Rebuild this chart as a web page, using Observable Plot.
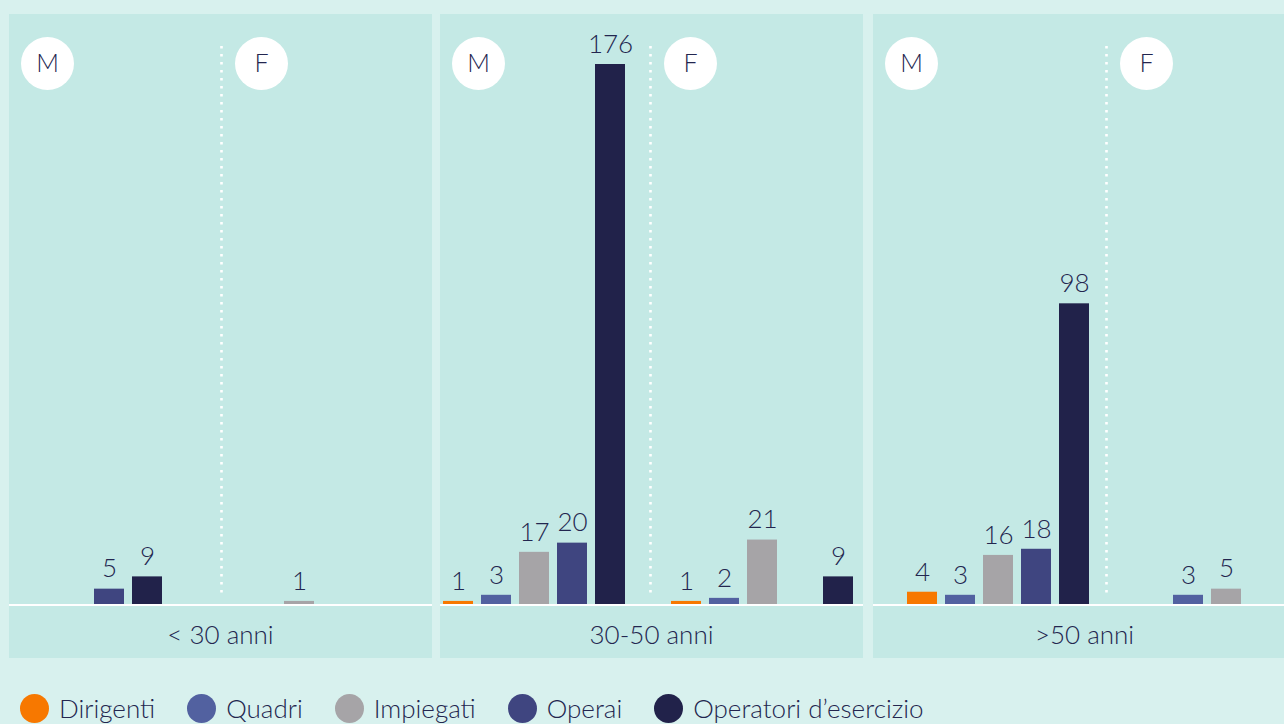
<!DOCTYPE html>
<html>
<head>
<meta charset="utf-8">
<script src="https://cdn.jsdelivr.net/npm/d3@7"></script>
<script src="https://cdn.jsdelivr.net/npm/@observablehq/plot@0.6"></script>
<style>
  html, body { margin: 0; padding: 0; background: #d8f1ee; overflow: hidden; }
  body { width: 1284px; height: 724px; font-family: Lato, "Noto Sans", sans-serif; font-weight: 300; color: #23264f; }
  #wrap { padding: 14px 0 0 9px; }
  #panels { display: flex; width: 1300px; }
  .panel { flex: 0 0 423px; width: 423px; background: #c4e9e5; }
  .panel svg { display: block; background: transparent; }
  .label { height: 54px; border-top: 2px solid #ffffff; box-sizing: border-box; display: flex; align-items: center; justify-content: center; font-size: 26px; padding-top: 4px; }
  #legend { display: flex; align-items: center; margin-top: 35px; margin-left: 11px; height: 30px; font-size: 26px; }
  .item { display: flex; align-items: center; margin-right: 32px; }
  .sw { width: 29px; height: 29px; border-radius: 50%; margin-right: 10px; }
</style>
</head>
<body>
<div id="wrap">
  <div id="panels"></div>
  <div id="legend"></div>
</div>
<script>
// ---- data ----
const ageGroups = ["< 30 anni", "30-50 anni", ">50 anni"];
const genders = ["M", "F"];
const categories = ["Dirigenti", "Quadri", "Impiegati", "Operai", "Operatori d’esercizio"];
const colors = ["#f77800", "#5261a0", "#a6a4a7", "#3f4580", "#21224a"];
// values per age group: M then F, in category order
const under30M = [0, 0, 0, 5, 9];
const under30F = [0, 0, 1, 0, 0];
const mid30_50M = [1, 3, 17, 20, 176];
const mid30_50F = [1, 2, 21, 0, 9];
const over50M = [4, 3, 16, 18, 98];
const over50F = [0, 3, 5, 0, 0];

const seriesByAge = [
  [under30M, under30F],
  [mid30_50M, mid30_50F],
  [over50M, over50F]
];

// ---- layout (per panel) ----
const panelLayout = [
  {offset: -33, sepShift: 0.5, gap: 8},
  {offset: -1, sepShift: -1.5, gap: 10},
  {offset: 30, sepShift: 21.5, gap: 0}
];
const navy = "#23264f";
const font = "Lato, 'Noto Sans', sans-serif";
const slots = [...categories.map(c => "M|" + c), "sep", ...categories.map(c => "F|" + c)];
const yMax = d3.max(seriesByAge.flat(2));

const panels = document.getElementById("panels");
ageGroups.forEach((age, i) => {
  const rows = [];
  genders.forEach((g, gi) => {
    seriesByAge[i][gi].forEach((v, ci) => {
      if (v > 0) rows.push({gender: g, category: categories[ci], slot: g + "|" + categories[ci], value: v});
    });
  });
  const L = panelLayout[i];
  const chart = Plot.plot({
    width: 423,
    height: 590,
    marginTop: 50,
    marginBottom: 0,
    marginLeft: 0,
    marginRight: 0,
    style: {fontFamily: font, fontWeight: 300, background: "transparent", overflow: "visible"},
    x: {type: "band", domain: slots, range: [L.offset, L.offset + 418], paddingInner: 0.2, paddingOuter: 0, axis: null},
    y: {domain: [0, yMax], axis: null},
    color: {domain: categories, range: colors},
    marks: [
      Plot.ruleX([0], {x: null, stroke: "#ffffff", strokeWidth: 2.6, strokeDasharray: "2.6 5.4", insetTop: -18, insetBottom: 6, dx: L.sepShift}),
      Plot.barY(rows, {x: "slot", y: "value", fill: "category"}),
      Plot.text(rows, {x: "slot", y: "value", text: d => String(d.value), dy: -20, fontSize: 26, fontWeight: 300, fill: navy}),
      Plot.dot([genders[0]], {frameAnchor: "top-left", dx: 38, dy: -1, r: 26.5, fill: "#ffffff", stroke: null}),
      Plot.text([genders[0]], {frameAnchor: "top-left", dx: 38, dy: -1, text: d => d, textAnchor: "middle", lineAnchor: "middle", fontSize: 25, fontWeight: 300, fill: navy}),
      Plot.dot([genders[1]], {frameAnchor: "top", dx: L.sepShift + 40, dy: -1, r: 26.5, fill: "#ffffff", stroke: null}),
      Plot.text([genders[1]], {frameAnchor: "top", dx: L.sepShift + 40, dy: -1, text: d => d, textAnchor: "middle", lineAnchor: "middle", fontSize: 25, fontWeight: 300, fill: navy})
    ]
  });
  const div = document.createElement("div");
  div.className = "panel";
  div.style.marginRight = L.gap + "px";
  div.appendChild(chart);
  const lab = document.createElement("div");
  lab.className = "label";
  lab.textContent = age;
  div.appendChild(lab);
  panels.appendChild(div);
});

const legend = document.getElementById("legend");
categories.forEach((c, i) => {
  const it = document.createElement("div");
  it.className = "item";
  const sw = document.createElement("span");
  sw.className = "sw";
  sw.style.background = colors[i];
  const t = document.createElement("span");
  t.textContent = c;
  it.appendChild(sw);
  it.appendChild(t);
  legend.appendChild(it);
});
</script>
</body>
</html>
